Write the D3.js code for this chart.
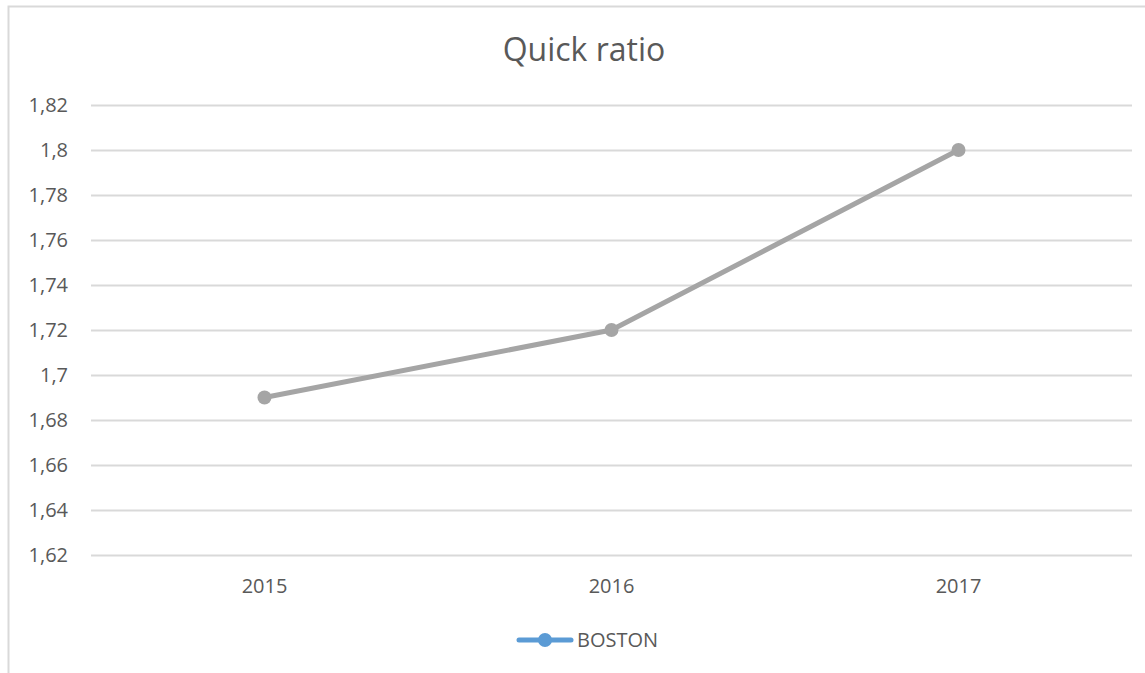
<!DOCTYPE html>
<html>
<head>
<meta charset="utf-8">
<script src="https://cdn.jsdelivr.net/npm/d3@7"></script>
<style>
  html, body { margin: 0; padding: 0; background: #fff; }
  svg { display: block; font-family: "Open Sans", "Noto Sans", sans-serif; }
</style>
</head>
<body>
<svg id="chart" width="1145" height="673"></svg>
<script>
// Quick ratio by year
const years = ["2015", "2016", "2017"];
const boston = [1.69, 1.72, 1.80];
const yTicks = [1.62, 1.64, 1.66, 1.68, 1.70, 1.72, 1.74, 1.76, 1.78, 1.80, 1.82];
const seriesName = "BOSTON";
const chartTitle = "Quick ratio";

const svg = d3.select("#chart");
const W = 1145, H = 673;
const plot = { left: 91, right: 1132, top: 105, bottom: 555 };
const textColor = "#595959";
const gridColor = "#d9d9d9";

// outer chart frame
svg.append("rect")
  .attr("x", 8.5).attr("y", 6.5)
  .attr("width", W + 20).attr("height", H + 20)
  .attr("fill", "#fff").attr("stroke", gridColor).attr("stroke-width", 2);

const x = d3.scaleBand().domain(years).range([plot.left, plot.right]);
const y = d3.scaleLinear().domain([1.62, 1.82]).range([plot.bottom, plot.top]);
const fmt = v => d3.format("~g")(+v.toFixed(2)).replace(".", ",");

// horizontal gridlines + value labels
const yAxis = d3.axisLeft(y).tickValues(yTicks).tickFormat(fmt)
  .tickSize(-(plot.right - plot.left)).tickPadding(23);
const gy = svg.append("g").attr("transform", `translate(${plot.left},0)`).call(yAxis);
gy.select(".domain").remove();
gy.selectAll(".tick line").attr("stroke", gridColor).attr("stroke-width", 2);
gy.selectAll(".tick text").attr("fill", textColor).attr("font-size", 20)
  .attr("font-family", "Open Sans, sans-serif");

// category labels
const xAxis = d3.axisBottom(x).tickSize(0).tickPadding(24);
const gx = svg.append("g").attr("transform", `translate(0,${plot.bottom})`).call(xAxis);
gx.select(".domain").remove();
gx.selectAll(".tick text").attr("fill", textColor).attr("font-size", 20)
  .attr("font-family", "Open Sans, sans-serif");

// series line and markers
const pts = years.map((yr, i) => [x(yr) + x.bandwidth() / 2, y(boston[i])]);
svg.append("path")
  .attr("d", d3.line()(pts))
  .attr("fill", "none").attr("stroke", "#a5a5a5")
  .attr("stroke-width", 5).attr("stroke-linejoin", "round");
svg.selectAll("circle.pt").data(pts).join("circle")
  .attr("class", "pt")
  .attr("cx", d => d[0]).attr("cy", d => d[1]).attr("r", 7)
  .attr("fill", "#a5a5a5");

// title
svg.append("text")
  .attr("x", 584).attr("y", 61)
  .attr("text-anchor", "middle")
  .attr("font-size", 32).attr("fill", textColor)
  .text(chartTitle);

// legend
const lg = svg.append("g").attr("transform", "translate(0,640)");
lg.append("line").attr("x1", 519).attr("x2", 571).attr("y1", 0).attr("y2", 0)
  .attr("stroke", "#5b9bd5").attr("stroke-width", 5).attr("stroke-linecap", "round");
lg.append("circle").attr("cx", 545).attr("cy", 0).attr("r", 7).attr("fill", "#5b9bd5");
lg.append("text").attr("x", 577).attr("y", 0).attr("dy", "0.35em")
  .attr("font-size", 20).attr("fill", textColor).text(seriesName);
</script>
</body>
</html>
